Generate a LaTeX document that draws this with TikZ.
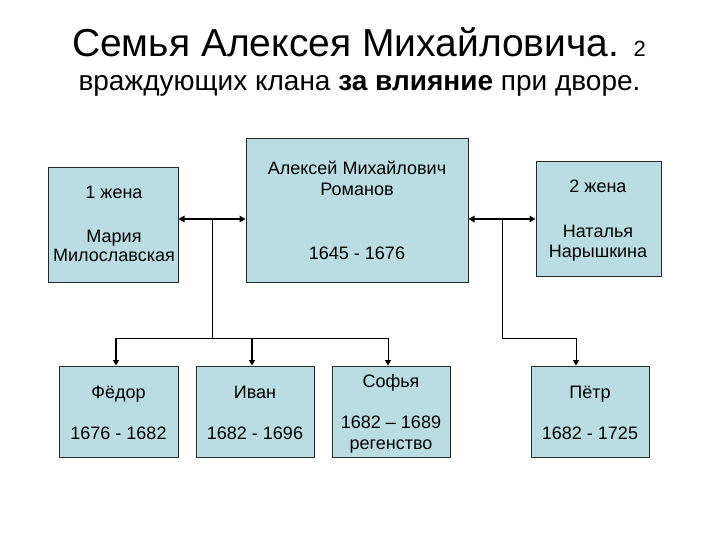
\documentclass[tikz,border=0pt]{standalone}
\usepackage{fontspec}
\setmainfont{Liberation Sans}
\usetikzlibrary{arrows.meta}
\definecolor{boxfill}{RGB}{186,221,227}
\definecolor{boxline}{RGB}{40,40,40}
\tikzset{
  box/.style={draw=boxline, line width=1pt, fill=boxfill, inner sep=0pt},
  txt/.style={anchor=base, inner sep=0pt, font=\fontsize{18}{21}\selectfont},
  conn/.style={draw=black, line width=1pt},
  tip/.style={-{Triangle[length=5.5pt,width=6pt]}},
  dtip/.style={{Triangle[length=6pt,width=6.5pt]}-{Triangle[length=6pt,width=6.5pt]}}
}
\begin{document}
\begin{tikzpicture}[x=1pt,y=-1pt]
\useasboundingbox (0,0) rectangle (720,540);
% title
\node[anchor=base, inner sep=0pt] (t1) at (359,56.7) {\fontsize{39}{44}\selectfont Семья Алексея Михайловича. {\fontsize{22}{26}\selectfont 2}};
\node[anchor=base, inner sep=0pt] (t2) at (359.5,91) {\fontsize{28}{32}\selectfont враждующих клана \textbf{за влияние} при дворе.};
% boxes
\node[box, minimum width=130, minimum height=114] (w1) at (113,225) {};
\node[box, minimum width=222, minimum height=143] (tsar) at (357,210.5) {};
\node[box, minimum width=125, minimum height=114] (w2) at (598.5,219) {};
\node[box, minimum width=119, minimum height=91] (fed) at (118.5,411.5) {};
\node[box, minimum width=118, minimum height=91] (ivan) at (255,411.5) {};
\node[box, minimum width=118, minimum height=91] (sof) at (391,411.5) {};
\node[box, minimum width=118, minimum height=91] (petr) at (590,411.5) {};
% texts
\node[txt] (w1a) at (114,199) {1 жена};
\node[txt] (w1b) at (114,242.7) {Мария};
\node[txt] (w1c) at (114,261) {Милославская};
\node[txt] (ta) at (357,175) {Алексей Михайлович};
\node[txt] (tb) at (357,195.7) {Романов};
\node[txt] (tc) at (357,259) {1645 - 1676};
\node[txt] (w2a) at (598,192.7) {2 жена};
\node[txt] (w2b) at (598,237) {Наталья};
\node[txt] (w2c) at (598,258) {Нарышкина};
\node[txt] (fa) at (118.5,398) {Фёдор};
\node[txt] (fb) at (118.5,439) {1676 - 1682};
\node[txt] (ia) at (255,398) {Иван};
\node[txt] (ib) at (255,439) {1682 - 1696};
\node[txt] (sa) at (391,387) {Софья};
\node[txt] (sb) at (391,428) {1682 – 1689};
\node[txt] (sc) at (391,449) {регенство};
\node[txt] (pa) at (590,398) {Пётр};
\node[txt] (pb) at (590,439) {1682 - 1725};
% connectors
\coordinate (j1) at (212,219);
\coordinate (j2) at (502,219);
\coordinate (b1) at (212,338);
\coordinate (b2) at (502,338);
\coordinate (hf) at (116,338);
\coordinate (hi) at (252,338);
\coordinate (hs) at (388,338);
\coordinate (hp) at (576,338);
\draw[conn, line width=2.2pt, dtip] (w1.east |- j1) -- (tsar.west |- j1);
\draw[conn, line width=2.2pt, dtip] (tsar.east |- j2) -- (w2.west |- j2);
\draw[conn] (j1) -- (b1);
\draw[conn] (hf) -- (hs);
\draw[conn] (j2) -- (b2) -- (hp);
\draw[conn, line width=2pt, tip] (hf) -- (hf |- fed.north);
\draw[conn, line width=2pt, tip] (hi) -- (hi |- ivan.north);
\draw[conn, tip] (hs) -- (hs |- sof.north);
\draw[conn, tip] (hp) -- (hp |- petr.north);
\end{tikzpicture}
\end{document}
